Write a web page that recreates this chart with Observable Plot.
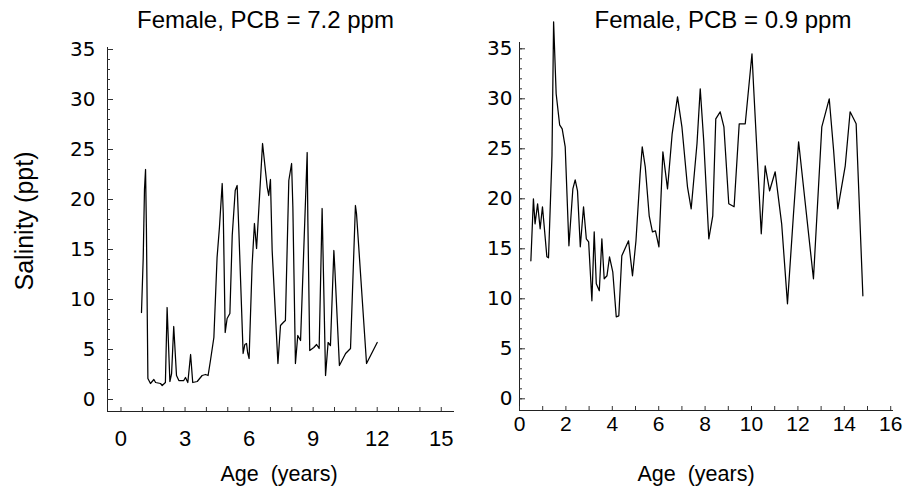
<!DOCTYPE html>
<html><head><meta charset="utf-8">
<script src="https://cdn.jsdelivr.net/npm/d3@7"></script>
<script src="https://cdn.jsdelivr.net/npm/@observablehq/plot@0.6"></script>
<style>
body{margin:0;background:#fff;}
#root{position:relative;width:905px;height:492px;font-family:"Liberation Sans",Arial,sans-serif;color:#000;overflow:hidden;}
#root svg{position:absolute;top:0;}
.t{position:absolute;white-space:pre;line-height:1;}
</style></head><body><div id="root"></div>
<script>
// Panel titles and axis labels
const titles = ["Female, PCB = 7.2 ppm", "Female, PCB = 0.9 ppm"];
const yLabel = "Salinity (ppt)";
const xLabel = "Age\u00a0 (years)";

// Left panel: Female, PCB = 7.2 ppm
const highAge = [0.96,1.04,1.10,1.15,1.19,1.26,1.38,1.54,1.62,1.85,1.93,2.08,2.16,2.29,2.37,2.47,2.60,2.71,2.94,3.02,3.13,3.26,3.36,3.57,3.80,3.96,4.08,4.19,4.35,4.50,4.61,4.74,4.79,4.88,4.97,5.10,5.21,5.35,5.44,5.52,5.72,5.80,5.88,5.93,6.00,6.14,6.25,6.35,6.63,6.85,6.92,7.00,7.08,7.35,7.47,7.60,7.70,7.86,7.99,8.05,8.17,8.28,8.41,8.67,8.72,8.75,8.84,9.03,9.16,9.28,9.42,9.58,9.70,9.81,9.97,10.02,10.23,10.52,10.75,10.98,11.03,11.50,12.00];
const highSal = [8.7,14.1,21.0,23.0,17.2,2.1,1.6,2.0,1.7,1.6,1.4,1.7,9.2,1.8,2.6,7.3,2.4,1.9,1.9,2.2,1.7,4.5,1.7,1.8,2.4,2.5,2.4,3.9,6.2,14.2,17.2,21.6,18.6,6.7,8.1,8.6,16.4,20.9,21.4,16.9,4.6,5.5,5.6,4.7,4.1,13.4,17.6,15.1,25.6,21.2,20.4,22.0,14.9,3.6,7.4,7.7,7.9,21.9,23.6,19.2,3.6,6.4,5.9,21.6,24.7,18.2,4.9,5.2,5.5,5.1,19.1,2.4,5.7,5.4,14.9,12.9,3.4,4.6,5.1,19.4,18.6,3.6,5.7];

// Right panel: Female, PCB = 0.9 ppm
const lowAge = [0.49,0.60,0.67,0.78,0.89,0.99,1.18,1.25,1.40,1.47,1.58,1.73,1.84,1.97,2.13,2.30,2.40,2.50,2.62,2.76,2.88,2.98,3.12,3.22,3.31,3.44,3.55,3.65,3.77,3.88,4.02,4.17,4.28,4.41,4.70,4.87,5.02,5.20,5.29,5.42,5.59,5.73,5.86,6.01,6.18,6.38,6.58,6.81,7.00,7.24,7.40,7.65,7.79,7.94,8.16,8.33,8.46,8.65,8.81,9.02,9.25,9.47,9.73,10.02,10.09,10.42,10.59,10.78,11.02,11.30,11.55,11.81,12.03,12.67,13.03,13.35,13.54,13.72,14.04,14.25,14.51,14.80];
const lowSal = [13.8,20.0,17.5,19.5,17.0,19.2,14.2,14.1,24.3,37.7,30.5,27.4,27.0,25.2,15.3,21.0,21.9,20.8,15.2,19.2,16.0,15.7,9.8,16.7,11.5,10.8,16.0,12.0,12.3,14.2,12.7,8.2,8.3,14.3,15.8,12.3,15.8,22.5,25.2,23.2,18.3,16.7,16.8,15.2,24.7,21.0,26.5,30.2,27.2,21.2,19.0,25.5,31.0,25.8,16.0,18.3,28.0,28.7,27.2,19.5,19.2,27.5,27.5,34.5,31.2,16.5,23.3,20.8,22.7,17.5,9.5,18.5,25.7,12.0,27.2,30.0,24.8,19.0,23.3,28.7,27.5,10.3];

// Tick values
const yMajorTicks = [0,5,10,15,20,25,30,35];
const yMinorTicks = d3.range(0,36);
const leftXTicks = [0,3,6,9,12,15];
const leftXMinor = d3.range(0,16);
const rightXTicks = [0,2,4,6,8,10,12,14,16];
const rightXMinor = d3.range(0,17);

const FONT = "'Liberation Sans', Arial, sans-serif";
const WIDE = "'DejaVu Sans', Verdana, sans-serif";

function panel(o) {
  const data = o.age.map((a,i)=>({age:a, sal:o.sal[i]}));
  return Plot.plot({
    width:o.width, height:492,
    marginLeft:o.ml, marginRight:o.mr, marginTop:o.mt, marginBottom:o.mb,
    x:{domain:o.xDomain}, y:{domain:o.yDomain},
    style:{fontFamily:FONT, color:"#000", background:"transparent", overflow:"visible"},
    marks:[
      Plot.ruleX([o.xDomain[0]], {stroke:"#222", strokeWidth:1}),
      Plot.ruleY([o.yDomain[0]], {stroke:"#222", strokeWidth:1}),
      Plot.axisY({ticks:yMinorTicks, anchor:"left", tickSize:3, dx:3, fill:"none", label:null, stroke:"#333"}),
      Plot.axisY({ticks:yMajorTicks, anchor:"left", tickSize:6, dx:6, fill:"none", label:null, stroke:"#333"}),
      Plot.axisY({ticks:yMajorTicks, anchor:"left", tickSize:0, tickPadding:o.yPad, fontSize:20, fontFamily:WIDE, label:null, fill:"#000"}),
      Plot.axisX({ticks:o.xMinor, anchor:"bottom", tickSize:4, dy:-4, fill:"none", label:null, stroke:"#333"}),
      Plot.axisX({ticks:o.xTicks, anchor:"bottom", tickSize:0, tickPadding:o.xPad, fontSize:o.xFont, label:null, fill:"#000"}),
      Plot.line(data, {x:"age", y:"sal", stroke:"#000", strokeWidth:1.25})
    ]
  });
}

const root = document.getElementById("root");

const left = panel({age:highAge, sal:highSal, width:460, ml:107, mr:6, mt:47, mb:81,
  xDomain:[-0.632, 15.62], yDomain:[-1.2, 35.2], xTicks:leftXTicks, xMinor:leftXMinor,
  xPad:19, yPad:12, xFont:22});
left.style.left = "0px";
root.appendChild(left);

const right = panel({age:lowAge, sal:lowSal, width:445, ml:59, mr:12, mt:42, mb:82,
  xDomain:[0, 16.12], yDomain:[-1.17, 35.63], xTicks:rightXTicks, xMinor:rightXMinor,
  xPad:6, yPad:7, xFont:21});
right.style.left = "460px";
root.appendChild(right);

function addText(txt, size, cx, top, rotate) {
  const d = document.createElement("div");
  d.className = "t";
  d.textContent = txt;
  d.style.fontSize = size + "px";
  d.style.left = cx + "px";
  d.style.top = top + "px";
  d.style.transform = rotate ? "translate(-50%,-50%) rotate(-90deg)" : "translateX(-50%)";
  root.appendChild(d);
}
addText(titles[0], 24, 265.5, 8);
addText(titles[1], 24, 723, 8);
addText(xLabel, 21.5, 279, 464.3);
addText(xLabel, 21.5, 696, 464.3);
addText(yLabel, 25, 23.8, 221, true);
</script>
</body></html>
